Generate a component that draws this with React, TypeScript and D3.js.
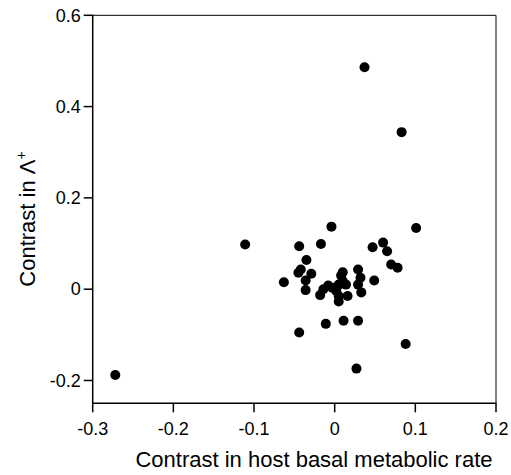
import React from "react";
import * as d3 from "d3";

const xs = [-0.272, 0.037, 0.083, 0.101, 0.060, 0.065, 0.070, 0.078, 0.088, -0.111, -0.063, -0.044, -0.011, 0.011, 0.029, 0.027, -0.004, -0.044, -0.017, -0.035, -0.045, -0.042, -0.029, -0.036, -0.036, 0.047, 0.049, 0.010, 0.029, 0.032, 0.029, 0.033, 0.010, -0.008, -0.014, -0.018, 0.005, 0.014, 0.002, 0.005, 0.005, 0.016, 0.008, -0.003];
const ys = [-0.188, 0.486, 0.344, 0.134, 0.102, 0.083, 0.054, 0.047, -0.120, 0.098, 0.015, -0.095, -0.076, -0.069, -0.069, -0.174, 0.137, 0.094, 0.099, 0.064, 0.036, 0.043, 0.034, 0.019, -0.002, 0.092, 0.019, 0.037, 0.043, 0.025, 0.010, -0.007, 0.018, 0.008, 0.000, -0.013, 0.010, 0.010, -0.004, -0.015, -0.027, -0.015, 0.030, 0.003];
const xTicks = [-0.3, -0.2, -0.1, 0, 0.1, 0.2];
const yTicks = [-0.2, 0, 0.2, 0.4, 0.6];
const xTickLabels = ["-0.3", "-0.2", "-0.1", "0", "0.1", "0.2"];
const yTickLabels = ["-0.2", "0", "0.2", "0.4", "0.6"];

export default function App() {
  const W = 511, H = 475;
  const L = 92.7, R = 496, T = 15.3, B = 403.3;
  const x = d3.scaleLinear().domain([-0.3, 0.2]).range([L, R]);
  const y = d3.scaleLinear().domain([-0.25, 0.6]).range([B, T]);
  const font = "'Liberation Sans', Arial, sans-serif";
  return (
    <svg width={W} height={H} style={{ position: "absolute", left: 0, top: 0 }}>
      <rect x={0} y={0} width={W} height={H} fill="#fff" />
      <line x1={L} x2={R} y1={T} y2={T} stroke="#000" strokeWidth={1} />
      <line x1={R} x2={R} y1={T} y2={B} stroke="#000" strokeWidth={1} />
      <line x1={L} x2={L} y1={T - 0.5} y2={B + 0.75} stroke="#000" strokeWidth={1.5} />
      <line x1={L} x2={R + 0.5} y1={B} y2={B} stroke="#000" strokeWidth={1.5} />
      {xTicks.map((t, i) => (
        <g key={"x" + i}>
          <line x1={x(t)} x2={x(t)} y1={B} y2={B + 9} stroke="#000" strokeWidth={1.5} />
          <text x={x(t)} y={435} textAnchor="middle" fontFamily={font} fontSize={18}>{xTickLabels[i]}</text>
        </g>
      ))}
      {yTicks.map((t, i) => (
        <g key={"y" + i}>
          <line x1={L - 9} x2={L} y1={y(t)} y2={y(t)} stroke="#000" strokeWidth={1.5} />
          <text x={L - 12} y={y(t) + 6.3} textAnchor="end" fontFamily={font} fontSize={18}>{yTickLabels[i]}</text>
        </g>
      ))}
      {xs.map((v, i) => (
        <circle key={"p" + i} cx={x(v)} cy={y(ys[i])} r={5} fill="#000" />
      ))}
      <text x={314} y={467} textAnchor="middle" fontFamily={font} fontSize={22}>Contrast in host basal metabolic rate</text>
      <text transform={`translate(35,219) rotate(-90)`} textAnchor="middle" fontFamily={font} fontSize={22}>
        Contrast in Λ<tspan dy={-9} fontSize={14}>+</tspan>
      </text>
    </svg>
  );
}
